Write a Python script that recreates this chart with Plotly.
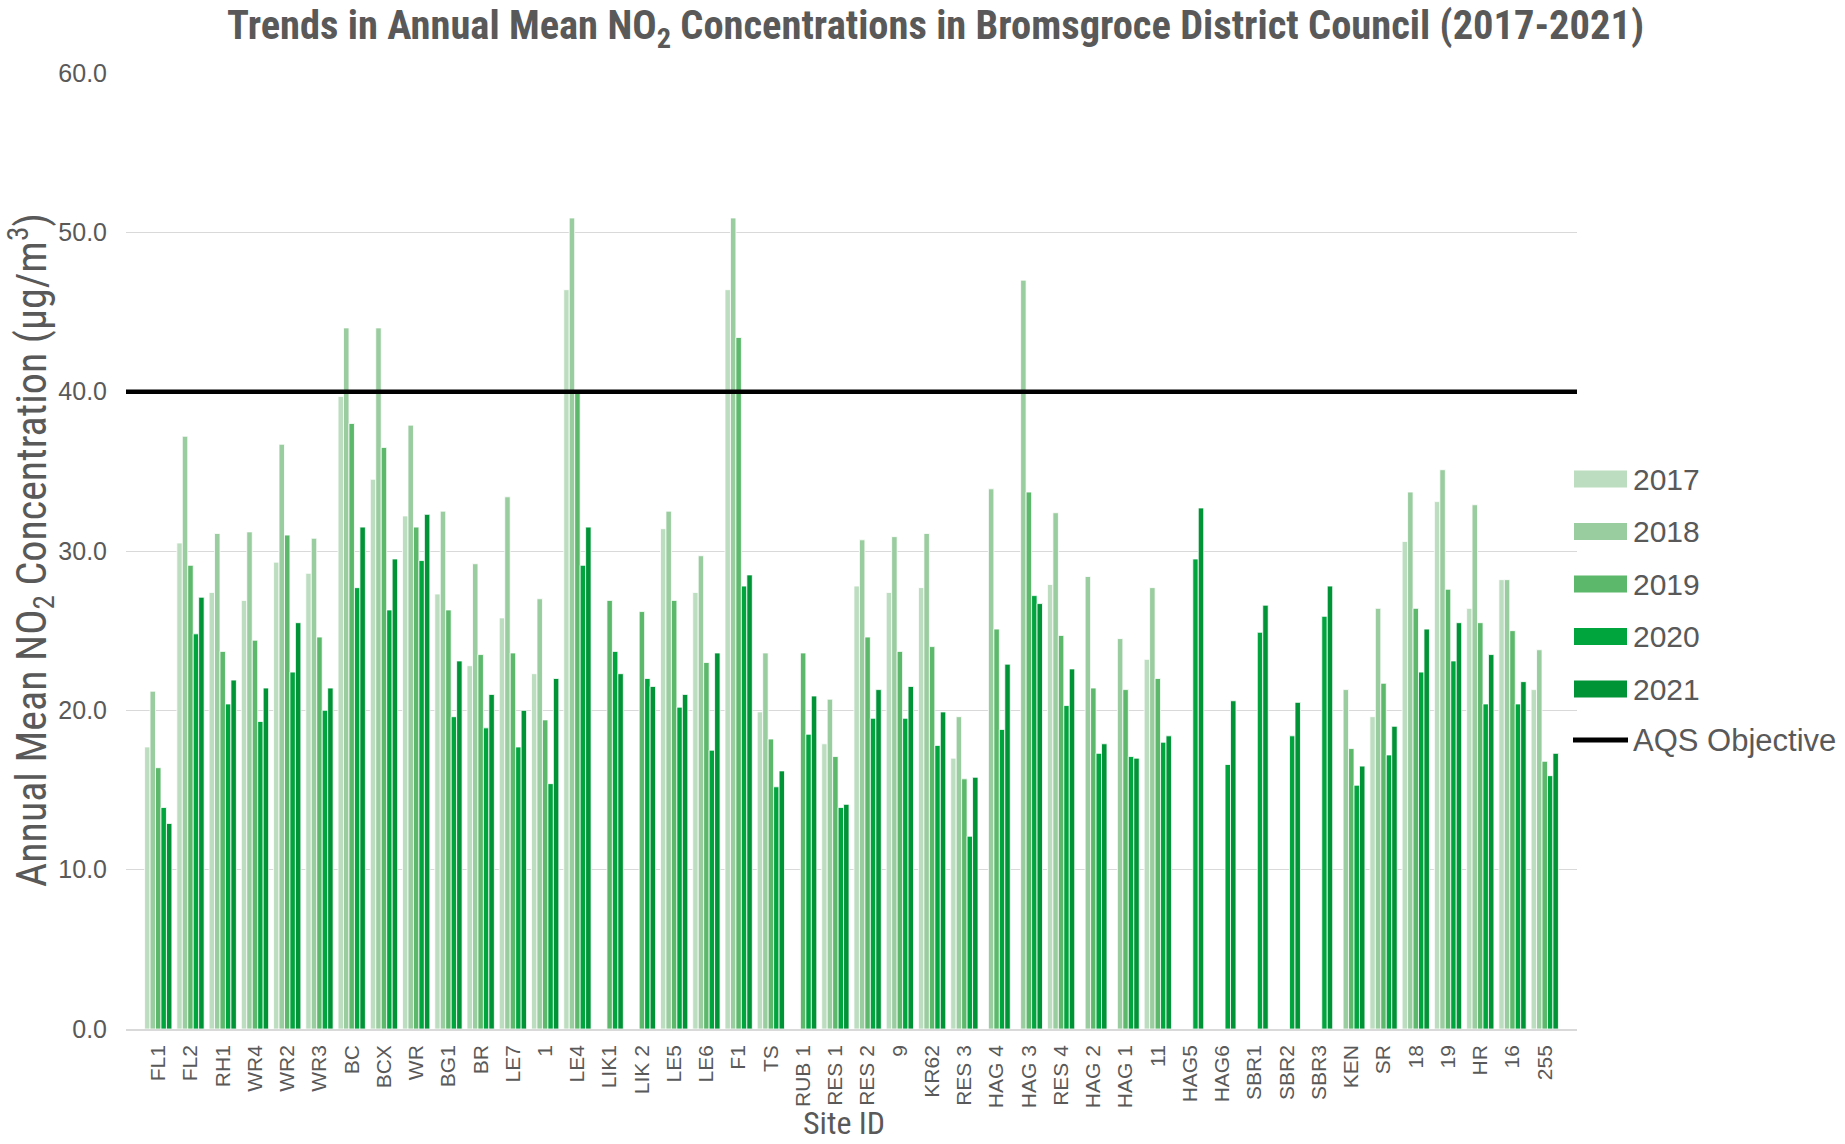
import plotly.graph_objects as go

# Monitoring sites (x categories)
sites = ["FL1", "FL2", "RH1", "WR4", "WR2", "WR3", "BC", "BCX", "WR", "BG1",
         "BR", "LE7", "1", "LE4", "LIK1", "LIK 2", "LE5", "LE6", "F1", "TS",
         "RUB 1", "RES 1", "RES 2", "9", "KR62", "RES 3", "HAG 4", "HAG 3", "RES 4", "HAG 2",
         "HAG 1", "11", "HAG5", "HAG6", "SBR1", "SBR2", "SBR3", "KEN", "SR", "18",
         "19", "HR", "16", "255"]

# Annual mean NO2 (ug/m3) per year; None = no measurement that year
no2_2017 = [17.7, 30.5, 27.4, 26.9, 29.3, 28.6, 39.7, 34.5, 32.2, 27.3,
            22.8, 25.8, 22.3, 46.4, None, None, 31.4, 27.4, 46.4, 19.9,
            None, 17.9, 27.8, 27.4, 27.7, 17.0, None, None, 27.9, None,
            None, 23.2, None, None, None, None, None, None, 19.6, 30.6,
            33.1, 26.4, 28.2, 21.3]
no2_2018 = [21.2, 37.2, 31.1, 31.2, 36.7, 30.8, 44.0, 44.0, 37.9, 32.5,
            29.2, 33.4, 27.0, 50.9, None, None, 32.5, 29.7, 50.9, 23.6,
            None, 20.7, 30.7, 30.9, 31.1, 19.6, 33.9, 47.0, 32.4, 28.4,
            24.5, 27.7, None, None, None, None, None, 21.3, 26.4, 33.7,
            35.1, 32.9, 28.2, 23.8]
no2_2019 = [16.4, 29.1, 23.7, 24.4, 31.0, 24.6, 38.0, 36.5, 31.5, 26.3,
            23.5, 23.6, 19.4, 39.9, 26.9, 26.2, 26.9, 23.0, 43.4, 18.2,
            23.6, 17.1, 24.6, 23.7, 24.0, 15.7, 25.1, 33.7, 24.7, 21.4,
            21.3, 22.0, None, None, None, None, None, 17.6, 21.7, 26.4,
            27.6, 25.5, 25.0, 16.8]
no2_2020 = [13.9, 24.8, 20.4, 19.3, 22.4, 20.0, 27.7, 26.3, 29.4, 19.6,
            18.9, 17.7, 15.4, 29.1, 23.7, 22.0, 20.2, 17.5, 27.8, 15.2,
            18.5, 13.9, 19.5, 19.5, 17.8, 12.1, 18.8, 27.2, 20.3, 17.3,
            17.1, 18.0, 29.5, 16.6, 24.9, 18.4, 25.9, 15.3, 17.2, 22.4,
            23.1, 20.4, 20.4, 15.9]
no2_2021 = [12.9, 27.1, 21.9, 21.4, 25.5, 21.4, 31.5, 29.5, 32.3, 23.1,
            21.0, 20.0, 22.0, 31.5, 22.3, 21.5, 21.0, 23.6, 28.5, 16.2,
            20.9, 14.1, 21.3, 21.5, 19.9, 15.8, 22.9, 26.7, 22.6, 17.9,
            17.0, 18.4, 32.7, 20.6, 26.6, 20.5, 27.8, 16.5, 19.0, 25.1,
            25.5, 23.5, 21.8, 17.3]

years = ["2017", "2018", "2019", "2020", "2021"]
series = [no2_2017, no2_2018, no2_2019, no2_2020, no2_2021]
colors = ["#BCDDBF", "#99CC9E", "#5CB96B", "#00A53E", "#009437"]

AQS_OBJECTIVE = 40.0
AQS_LABEL = "AQS Objective"

GREY = "#595959"
FONT = "Liberation Sans, Arial, sans-serif"
NARROW = "Liberation Sans Narrow, Arial Narrow, Roboto Condensed, Liberation Sans, sans-serif"

fig = go.Figure()
for yr, vals, col in zip(years, series, colors):
    fig.add_trace(go.Bar(
        x=sites, y=vals, name=yr,
        marker=dict(color=col, line=dict(color="white", width=0.8)),
        showlegend=False,
    ))

# Air quality objective line across the whole plot
fig.add_shape(type="line", xref="paper", x0=0, x1=1, yref="y",
              y0=AQS_OBJECTIVE, y1=AQS_OBJECTIVE,
              line=dict(color="black", width=4.5), layer="above")

# Hand-built legend on the right (wide swatches)
W, H = 1845, 1144
L, R, T, B = 126, 268, 73, 115
pw, ph = W - L - R, H - T - B


def px_x(px):
    return (px - L) / pw


def px_y(py):
    return (H - B - py) / ph


leg_y = [479, 531.5, 584, 636.5, 689, 740]
for i, (yr, col) in enumerate(zip(years, colors)):
    yc = leg_y[i]
    fig.add_shape(type="rect", xref="paper", yref="paper",
                  x0=px_x(1574), x1=px_x(1627), y0=px_y(yc + 8.5), y1=px_y(yc - 8.5),
                  fillcolor=col, line=dict(width=0))
    fig.add_annotation(xref="paper", yref="paper", x=px_x(1631), y=px_y(yc),
                       text=yr, showarrow=False, xanchor="left", yanchor="middle",
                       font=dict(family=FONT, size=30, color=GREY))
fig.add_shape(type="line", xref="paper", yref="paper",
              x0=px_x(1573), x1=px_x(1628), y0=px_y(leg_y[5]), y1=px_y(leg_y[5]),
              line=dict(color="black", width=5))
fig.add_annotation(xref="paper", yref="paper", x=px_x(1631), y=px_y(leg_y[5]),
                   text=AQS_LABEL, showarrow=False, xanchor="left", yanchor="middle",
                   font=dict(family=FONT, size=31, color=GREY))

# Titles
fig.add_annotation(xref="paper", yref="paper", x=px_x(935), y=px_y(28),
                   text="<b>Trends in Annual Mean NO<sub>2</sub> Concentrations in Bromsgroce District Council (2017-2021)</b>",
                   showarrow=False, xanchor="center", yanchor="middle",
                   font=dict(family=NARROW, size=40.5, color=GREY))
fig.add_annotation(xref="paper", yref="paper", x=px_x(31), y=px_y(550),
                   text="Annual Mean NO<sub>2</sub> Concentration (µg/m<sup>3</sup>)",
                   textangle=-90, showarrow=False, xanchor="center", yanchor="middle",
                   font=dict(family=NARROW, size=42, color=GREY))
fig.add_annotation(xref="paper", yref="paper", x=px_x(844), y=px_y(1123),
                   text="Site ID", showarrow=False, xanchor="center", yanchor="middle",
                   borderpad=0, font=dict(family=NARROW, size=32, color=GREY))

fig.update_layout(
    width=W, height=H,
    margin=dict(l=L, r=R, t=T, b=B, pad=0),
    paper_bgcolor="white", plot_bgcolor="white",
    barmode="group", bargap=0.153, bargroupgap=0,
    font=dict(family=FONT, color=GREY),
)
fig.update_xaxes(
    type="category", categoryorder="array", categoryarray=sites,
    range=[-1, len(sites)], tickangle=-90,
    tickfont=dict(family=FONT, size=21, color=GREY),
    showline=True, linecolor="#D9D9D9", linewidth=1.5,
    showgrid=False, ticks="", ticklabelstandoff=6,
)
fig.update_yaxes(
    range=[0, 60], dtick=10, tickformat=".1f",
    tickfont=dict(family=FONT, size=25, color=GREY),
    showgrid=True, gridcolor="#D9D9D9", gridwidth=1.3,
    zeroline=False, showline=False, ticks="", ticklabelstandoff=18,
)

fig.write_html("out.html")
